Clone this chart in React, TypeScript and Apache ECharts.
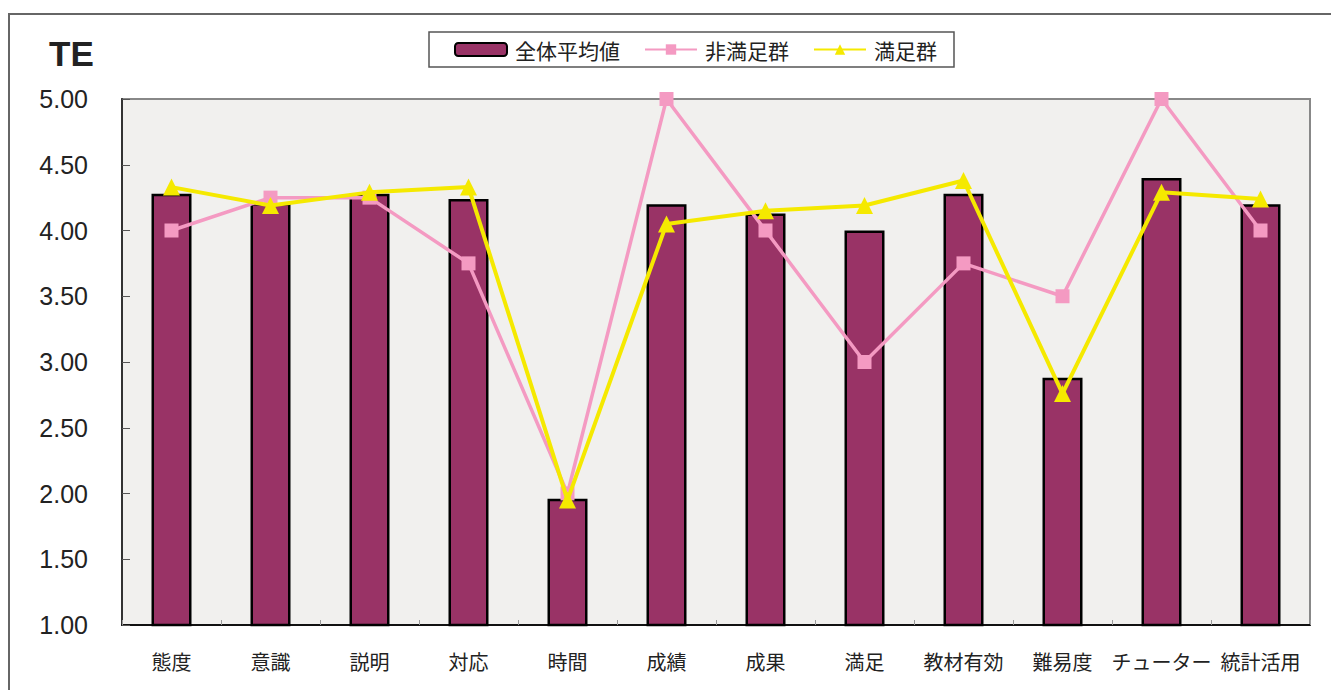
import React, { useEffect, useRef } from "react";
import * as echarts from "echarts";

const categories = ["態度", "意識", "説明", "対応", "時間", "成績", "成果", "満足", "教材有効", "難易度", "チューター", "統計活用"];
const overallAvg = [4.28, 4.21, 4.28, 4.24, 1.96, 4.2, 4.13, 4.0, 4.28, 2.88, 4.4, 4.2];
const unsatisfied = [4.0, 4.25, 4.25, 3.75, 2.0, 5.0, 4.0, 3.0, 3.75, 3.5, 5.0, 4.0];
const satisfied = [4.33, 4.19, 4.29, 4.33, 1.95, 4.05, 4.15, 4.19, 4.38, 2.76, 4.29, 4.24];
const seriesNames = ["全体平均値", "非満足群", "満足群"];

const CJK = '"Noto Sans CJK JP", "Noto Sans", sans-serif';
const NUM = '"Liberation Sans", Arial, sans-serif';

export default function App() {
  const ref = useRef<HTMLDivElement>(null);
  useEffect(() => {
    if (!ref.current) return;
    const chart = echarts.init(ref.current, undefined, { renderer: "svg" });
    chart.setOption({
      animation: false,
      backgroundColor: "#ffffff",
      graphic: [
        {
          type: "rect",
          shape: { x: 9, y: 14, width: 1340, height: 700 },
          style: { fill: "none", stroke: "#666", lineWidth: 2 },
          silent: true,
        },
        {
          type: "text",
          left: 49,
          top: 36,
          style: { text: "TE", font: `bold 35px ${NUM}`, fill: "#222" },
        },
      ],
      legend: {
        left: 429,
        top: 32,
        padding: [7, 17, 7, 25],
        borderColor: "#555",
        borderWidth: 1.5,
        backgroundColor: "#fff",
        itemGap: 24,
        itemWidth: 52,
        itemHeight: 13,
        textStyle: { fontSize: 21, fontFamily: CJK, color: "#222", padding: [0, 0, 0, 3] },
        data: seriesNames,
      },
      grid: {
        left: 122,
        top: 99,
        right: 21,
        bottom: 65,
        show: true,
        backgroundColor: "#f1f0ee",
        borderColor: "#888",
        borderWidth: 2,
        containLabel: false,
      },
      xAxis: {
        type: "category",
        data: categories,
        boundaryGap: true,
        axisLine: { show: true, lineStyle: { color: "#111", width: 2 } },
        axisTick: { show: true, inside: true, length: 5, lineStyle: { color: "#999" } },
        axisLabel: { fontSize: 20, fontFamily: CJK, color: "#222", margin: 26, interval: 0 },
      },
      yAxis: {
        type: "value",
        min: 1,
        max: 5,
        interval: 0.5,
        axisLine: { show: true, lineStyle: { color: "#333", width: 2 } },
        axisTick: { show: true, inside: true, length: 8, lineStyle: { color: "#555" } },
        splitLine: { show: false },
        axisLabel: {
          fontSize: 25,
          fontFamily: NUM,
          color: "#222",
          margin: 34,
          formatter: (v: number) => v.toFixed(2),
        },
      },
      series: [
        {
          name: seriesNames[0],
          type: "bar",
          data: overallAvg,
          barWidth: 40,
          itemStyle: { color: "#993366", borderColor: "#000", borderWidth: 2.5 },
          z: 2,
        },
        {
          name: seriesNames[1],
          type: "line",
          data: unsatisfied,
          symbol: "rect",
          symbolSize: 14,
          lineStyle: { color: "#f49ac2", width: 3.5 },
          itemStyle: { color: "#f49ac2" },
          z: 3,
        },
        {
          name: seriesNames[2],
          type: "line",
          data: satisfied,
          symbol: "triangle",
          symbolSize: 17,
          lineStyle: { color: "#f5e900", width: 4 },
          itemStyle: { color: "#f5e900" },
          z: 4,
        },
      ],
    });
    return () => chart.dispose();
  }, []);
  return (
    <div
      ref={ref}
      style={{ position: "fixed", left: 0, top: 0, width: 1331, height: 690 }}
    />
  );
}
